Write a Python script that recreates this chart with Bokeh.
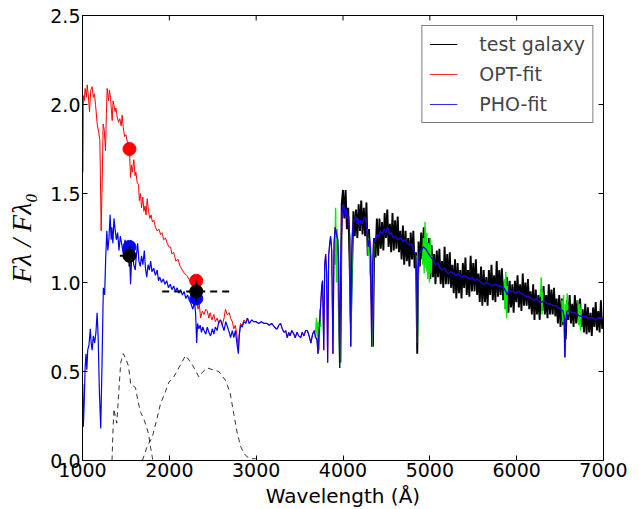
import numpy as np
from bokeh.plotting import figure
from bokeh.models import Range1d, FixedTicker, Legend, LegendItem
from bokeh.embed import file_html
from bokeh.resources import INLINE

# ---------------- data ----------------
XTICKS = [1000, 2000, 3000, 4000, 5000, 6000, 7000]
YTICKS = [0.0, 0.5, 1.0, 1.5, 2.0, 2.5]
YTICK_LABELS = ["0.0", "0.5", "1.0", "1.5", "2.0", "2.5"]

# observed galaxy spectrum (uniform sampling 3955-7000 A, step 15 A)
BLACK_FLUX = [
    0.85, 0.55, 1.44,
    1.52, 1.36, 1.52, 1.30, 1.42, 1.14, 0.77, 1.09, 1.40, 1.26,
    1.41, 1.25, 1.44, 1.29, 1.46, 1.27, 1.42, 1.26, 1.45, 1.15,
    1.30, 1.09, 0.92, 0.64, 1.25, 1.14, 1.36, 1.15, 1.36, 1.19,
    1.34, 1.18, 1.39, 1.25, 1.41, 1.20, 1.33, 1.17, 1.39, 1.18,
    1.35, 1.19, 1.37, 1.17, 1.29, 1.13, 1.32, 1.10, 1.29, 1.12,
    1.25, 1.09, 1.28, 1.13, 1.29, 1.08, 1.17, 0.60, 1.23, 1.09,
    1.28, 1.13, 1.31, 1.11, 1.23, 1.06, 1.25, 1.02, 1.21, 1.03,
    1.16, 0.99, 1.18, 1.03, 1.19, 0.99, 1.12, 0.97, 1.20, 0.99,
    1.16, 0.99, 1.17, 0.97, 1.10, 0.94, 1.13, 0.91, 1.11, 0.94,
    1.07, 0.91, 1.11, 0.97, 1.14, 0.93, 1.07, 0.92, 1.15, 0.95,
    1.11, 0.95, 1.13, 0.93, 1.05, 0.89, 1.09, 0.87, 1.07, 0.89,
    1.03, 0.87, 1.07, 0.93, 1.10, 0.90, 1.04, 0.89, 1.12, 0.92,
    1.07, 0.93, 1.08, 0.90, 1.01, 0.85, 1.03, 0.83, 1.01, 0.86,
    0.99, 0.83, 1.01, 0.89, 1.04, 0.86, 0.99, 0.84, 1.05, 0.87,
    1.00, 0.87, 1.02, 0.85, 0.95, 0.82, 0.99, 0.79, 0.96, 0.82,
    0.93, 0.79, 0.96, 0.84, 0.98, 0.82, 0.93, 0.80, 0.99, 0.82,
    0.96, 0.82, 0.97, 0.81, 0.91, 0.77, 0.93, 0.75, 0.91, 0.76,
    0.81, 0.68, 0.90, 0.79, 0.93, 0.77, 0.88, 0.75, 0.93, 0.77,
    0.90, 0.77, 0.91, 0.75, 0.85, 0.72, 0.88, 0.71, 0.86, 0.72,
    0.83, 0.70, 0.86, 0.75, 0.89, 0.73, 0.84, 0.72, 0.90, 0.74,
    0.80,
]
BLACK_START, BLACK_END = 3955, 7000

# masked (green) pieces of the observed spectrum: (wavelength, flux)
GREEN_PIECES = [
    [(3685, 0.72), (3695, 0.80), (3705, 0.66), (3715, 0.78), (3725, 0.62), (3735, 0.85), (3745, 0.75)],
    [(3905, 1.10), (3915, 1.42), (3925, 1.00), (3935, 1.30), (3945, 0.92), (3955, 0.70), (3962, 0.52), (3970, 0.90), (3980, 1.25)],
    [(4075, 1.28), (4085, 0.90), (4092, 0.64), (4100, 1.00), (4110, 1.30)],
    [(4280, 1.30), (4290, 1.15), (4300, 1.25), (4310, 1.05), (4320, 1.20), (4330, 0.90), (4338, 0.64), (4345, 1.00), (4355, 1.22)],
    [(4845, 1.15), (4852, 0.90), (4858, 0.66), (4865, 0.95), (4872, 1.12)],
    [(4915, 1.10), (4925, 1.25), (4935, 1.05), (4945, 1.34), (4955, 1.08), (4965, 1.28), (4975, 1.02), (4985, 1.22), (4995, 1.00), (5005, 1.25), (5015, 1.05), (5025, 1.15)],
    [(5855, 1.02), (5865, 0.85), (5875, 1.06), (5885, 0.80), (5895, 0.98)],
    [(6275, 0.92), (6283, 1.03), (6292, 0.82), (6300, 0.95)],
    [(6520, 0.90), (6530, 0.78), (6540, 0.93), (6548, 0.70), (6555, 0.58), (6562, 0.88), (6572, 0.80), (6582, 0.94), (6592, 0.82)],
    [(6705, 0.90), (6715, 0.76), (6725, 0.88), (6735, 0.73), (6745, 0.86)],
]

# OPT-fit, UV part (wavelength, flux)
OPT_UV = [
    (1000, 1.62), (1005, 1.62), (1010, 2.05), (1020, 2.02), (1030, 2.09), (1045, 2.04), (1054, 2.11), (1065, 2.06),
    (1081, 1.96), (1095, 2.08), (1111, 2.10), (1125, 2.04), (1138, 2.06), (1150, 2.00), (1169, 1.89),
    (1188, 1.84), (1200, 1.80), (1215, 1.29), (1228, 1.60), (1238, 1.89), (1250, 1.86), (1265, 1.74),
    (1275, 1.95), (1284, 2.09), (1300, 2.02), (1310, 2.08), (1323, 2.04), (1335, 1.95), (1342, 1.91),
    (1352, 2.02), (1361, 2.00), (1375, 1.96), (1385, 1.98), (1399, 1.93), (1415, 1.90), (1430, 1.92),
    (1445, 1.88), (1457, 1.94), (1470, 1.87), (1484, 1.82), (1500, 1.83), (1520, 1.78), (1541, 1.75),
    (1553, 1.59), (1565, 1.66), (1575, 1.62), (1591, 1.69), (1605, 1.60), (1615, 1.62), (1630, 1.56),
    (1645, 1.55), (1655, 1.46), (1668, 1.50), (1680, 1.42), (1695, 1.48), (1707, 1.40), (1720, 1.43),
    (1732, 1.38), (1745, 1.47), (1760, 1.40), (1775, 1.36), (1790, 1.38), (1805, 1.34), (1822, 1.35),
    (1840, 1.31), (1860, 1.29), (1880, 1.30), (1899, 1.27), (1915, 1.28), (1935, 1.24), (1956, 1.25),
    (1975, 1.22), (1995, 1.20), (2014, 1.20), (2030, 1.16), (2050, 1.17), (2075, 1.12), (2100, 1.13),
    (2125, 1.09), (2150, 1.07), (2175, 1.05), (2200, 1.04), (2225, 1.02), (2250, 1.00), (2275, 0.97),
    (2300, 0.98), (2315, 0.90), (2330, 0.85), (2345, 0.88), (2360, 0.80), (2380, 0.84), (2400, 0.82),
    (2420, 0.85), (2437, 0.84), (2455, 0.80), (2470, 0.83), (2490, 0.79), (2513, 0.82), (2530, 0.78),
    (2550, 0.80), (2570, 0.77), (2590, 0.79), (2610, 0.76), (2630, 0.80), (2647, 0.85), (2665, 0.82),
    (2690, 0.83), (2705, 0.80), (2725, 0.78), (2743, 0.74), (2760, 0.76), (2780, 0.70), (2795, 0.62),
    (2805, 0.71), (2820, 0.77), (2840, 0.76), (2860, 0.79), (2880, 0.78),
]

# PHO-fit, UV part (wavelength, flux)
PHO_UV = [
    (1000, 0.43), (1003, 0.43), (1010, 0.19), (1020, 0.33), (1030, 0.52), (1040, 0.60), (1050, 0.51),
    (1060, 0.62), (1075, 0.65), (1090, 0.74), (1100, 0.66), (1111, 0.62), (1125, 0.70), (1140, 0.66),
    (1155, 0.72), (1168, 0.83), (1180, 0.70), (1195, 0.38), (1210, 0.18), (1225, 0.55), (1240, 0.97),
    (1255, 0.93), (1268, 1.15), (1280, 1.29), (1292, 1.18), (1305, 1.25), (1318, 1.38), (1330, 1.24),
    (1338, 1.31), (1350, 1.22), (1362, 1.36), (1375, 1.30), (1390, 1.24), (1405, 1.28), (1420, 1.18),
    (1435, 1.26), (1450, 1.22), (1470, 1.16), (1490, 1.24), (1510, 1.19), (1530, 1.22), (1541, 1.20),
    (1553, 0.99), (1565, 1.12), (1575, 1.18), (1590, 1.10), (1607, 1.07), (1620, 1.15), (1635, 1.22),
    (1650, 1.12), (1665, 1.09), (1680, 1.15), (1695, 1.10), (1712, 1.18), (1725, 1.08), (1740, 1.03),
    (1755, 1.10), (1770, 1.07), (1785, 1.12), (1800, 1.06), (1820, 1.08), (1840, 1.04), (1860, 1.07),
    (1875, 1.01), (1890, 1.03), (1910, 1.00), (1930, 1.02), (1950, 0.99), (1970, 1.01), (1990, 0.97),
    (2010, 0.99), (2030, 0.96), (2050, 0.98), (2070, 0.95), (2090, 0.97), (2110, 0.94), (2130, 0.96),
    (2150, 0.93), (2170, 0.95), (2190, 0.91), (2210, 0.93), (2230, 0.90), (2250, 0.88), (2270, 0.85),
    (2290, 0.89), (2302, 0.83), (2315, 0.66), (2325, 0.77), (2340, 0.74), (2355, 0.76), (2370, 0.72),
    (2385, 0.75), (2400, 0.73), (2420, 0.71), (2437, 0.75), (2455, 0.72), (2475, 0.70), (2495, 0.74),
    (2513, 0.71), (2530, 0.75), (2550, 0.73), (2570, 0.78), (2590, 0.79), (2610, 0.76), (2630, 0.73),
    (2650, 0.78), (2670, 0.75), (2690, 0.72), (2705, 0.69), (2725, 0.73), (2743, 0.69), (2760, 0.73),
    (2780, 0.65), (2795, 0.60), (2805, 0.70), (2820, 0.76), (2840, 0.75), (2860, 0.78), (2880, 0.77),
]

# part where both fits coincide (wavelength, flux)
FIT_COMMON = [
    (2900, 0.80), (2920, 0.77), (2935, 0.78), (2950, 0.79), (2970, 0.78), (3000, 0.78), (3030, 0.77),
    (3060, 0.78), (3090, 0.77), (3128, 0.77), (3150, 0.76), (3180, 0.77), (3210, 0.75), (3230, 0.74),
    (3243, 0.74), (3260, 0.76), (3281, 0.77), (3300, 0.74), (3320, 0.72), (3340, 0.73), (3358, 0.69),
    (3375, 0.72), (3390, 0.70), (3410, 0.73), (3434, 0.71), (3450, 0.69), (3470, 0.72), (3490, 0.70),
    (3512, 0.69), (3530, 0.72), (3550, 0.70), (3570, 0.73), (3589, 0.73), (3610, 0.70), (3630, 0.66),
    (3650, 0.71), (3670, 0.73), (3684, 0.69), (3700, 0.68), (3712, 0.60), (3725, 0.72), (3740, 0.85),
    (3755, 0.98), (3765, 1.01), (3778, 0.62), (3790, 1.10), (3800, 1.16), (3812, 1.05), (3823, 0.55),
    (3835, 1.15), (3847, 1.22), (3857, 1.26), (3870, 1.18), (3884, 0.60), (3897, 1.22), (3910, 1.31),
    (3925, 1.27), (3940, 1.24), (3950, 1.10), (3961, 0.52), (3975, 1.15), (3991, 1.40), (4007, 1.44),
    (4020, 1.38), (4035, 1.41), (4050, 1.36), (4065, 1.37), (4078, 1.25), (4088, 0.64), (4098, 1.10),
    (4110, 1.30), (4125, 1.35), (4145, 1.37), (4160, 1.33), (4175, 1.36), (4190, 1.32), (4203, 1.35),
    (4220, 1.33), (4240, 1.36), (4260, 1.37), (4275, 1.30), (4290, 1.20), (4305, 1.25), (4318, 1.15),
    (4330, 0.64), (4342, 1.10), (4353, 1.25), (4370, 1.23), (4390, 1.27), (4410, 1.26), (4433, 1.29),
    (4455, 1.27), (4475, 1.30), (4495, 1.28), (4514, 1.31), (4535, 1.27), (4555, 1.28), (4583, 1.25),
    (4605, 1.26), (4630, 1.24), (4664, 1.25), (4690, 1.23), (4715, 1.24), (4744, 1.22), (4770, 1.21),
    (4790, 1.22), (4815, 1.18), (4836, 1.16), (4848, 1.05), (4856, 0.66), (4864, 1.05), (4878, 1.16),
    (4900, 1.18), (4925, 1.20), (4952, 1.19), (4975, 1.17), (5000, 1.15), (5020, 1.14), (5044, 1.12),
    (5070, 1.10), (5095, 1.11), (5120, 1.08), (5145, 1.07), (5170, 1.08), (5190, 1.06), (5215, 1.05),
    (5240, 1.06), (5274, 1.05), (5300, 1.04), (5330, 1.05), (5360, 1.03), (5390, 1.04), (5428, 1.03),
    (5460, 1.02), (5490, 1.03), (5520, 1.01), (5550, 1.02), (5590, 1.00), (5620, 0.99), (5650, 1.00),
    (5690, 0.99), (5720, 0.98), (5760, 0.99), (5790, 0.98), (5813, 0.98), (5850, 0.97), (5875, 0.95),
    (5893, 0.93), (5910, 0.96), (5931, 0.95), (5960, 0.95), (5990, 0.94), (6020, 0.95), (6046, 0.94),
    (6080, 0.93), (6110, 0.92), (6140, 0.92), (6170, 0.91), (6200, 0.90), (6230, 0.91), (6260, 0.89),
    (6290, 0.89), (6320, 0.90), (6350, 0.88), (6392, 0.88), (6420, 0.87), (6450, 0.87), (6480, 0.86),
    (6510, 0.85), (6535, 0.84), (6548, 0.80), (6555, 0.58), (6565, 0.78), (6580, 0.84), (6610, 0.84),
    (6640, 0.83), (6670, 0.83), (6700, 0.82), (6730, 0.81), (6760, 0.81), (6790, 0.81), (6820, 0.80),
    (6850, 0.80), (6880, 0.80), (6910, 0.79), (6940, 0.80), (6970, 0.80), (7000, 0.80),
]

# GALEX filter response curves (dashed)
FUV_WAVE = [1340, 1352, 1362, 1380, 1395, 1420, 1440, 1470, 1500, 1530, 1555, 1580, 1610, 1640, 1670, 1700, 1730, 1760, 1785, 1810]
FUV_RESP = [0.0, 0.18, 0.29, 0.24, 0.21, 0.40, 0.55, 0.60, 0.57, 0.53, 0.43, 0.42, 0.41, 0.33, 0.27, 0.24, 0.20, 0.15, 0.07, 0.0]
NUV_WAVE = [1690, 1745, 1803, 1850, 1899, 1950, 1995, 2052, 2120, 2187, 2263, 2340, 2390, 2437, 2500, 2570, 2647, 2700, 2743, 2780, 2820, 2860, 2897, 2950, 2993, 3030]
NUV_RESP = [0.0, 0.08, 0.13, 0.22, 0.32, 0.38, 0.44, 0.47, 0.53, 0.59, 0.54, 0.47, 0.50, 0.52, 0.51, 0.50, 0.45, 0.38, 0.26, 0.16, 0.08, 0.04, 0.02, 0.01, 0.01, 0.0]

# photometry
PHOT_WAVE = [1541, 2310]
OBS_PHOT = [1.15, 0.95]
OBS_ERR = [0.06, 0.06]
BAND_LO = [1430, 1918]
BAND_HI = [1610, 2724]
OPT_PHOT = [1.75, 1.01]
PHO_PHOT = [1.20, 0.91]

# ---------------- figure ----------------
X0, X1, Y0, Y1 = 1000, 7000, 0.0, 2.5
FW, FH = 521, 445
p = figure(frame_width=FW, frame_height=FH,
           x_range=Range1d(X0, X1), y_range=Range1d(Y0, Y1),
           output_backend="svg", toolbar_location=None,
           min_border_left=82, min_border_right=36, min_border_top=15, min_border_bottom=49)
p.grid.visible = False
p.outline_line_color = "black"
p.outline_line_width = 1
p.background_fill_color = "white"
p.border_fill_color = "white"

FONT = "DejaVu Sans"
xax = p.below[0]
yax = p.left[0]
for ax, ticks in ((xax, XTICKS), (yax, YTICKS)):
    ax.ticker = FixedTicker(ticks=ticks)
    ax.major_tick_in = 5
    ax.major_tick_out = 0
    ax.minor_tick_line_color = None
    ax.axis_line_color = "black"
    ax.major_tick_line_color = "black"
    ax.major_label_text_font = FONT
    ax.major_label_text_color = "black"
    ax.major_label_text_font_size = "19px"
    ax.major_label_standoff = 2
yax.major_label_overrides = {t: s for t, s in zip(YTICKS, YTICK_LABELS)}
xax.major_label_overrides = {t: str(t) for t in XTICKS}

xax.axis_label = "Wavelength (Å)"
xax.axis_label_text_font = FONT
xax.axis_label_text_font_size = "20px"
xax.axis_label_text_font_style = "normal"
xax.axis_label_text_color = "black"
xax.axis_label_standoff = 4

yax.axis_label = "Fλ / Fλ₀"
yax.axis_label_text_font = "Liberation Serif"
yax.axis_label_text_font_size = "28px"
yax.axis_label_text_font_style = "italic"
yax.axis_label_text_color = "black"
yax.axis_label_standoff = 10

# inward ticks on the top and right frame edges
TICK_PX = 5
dy = TICK_PX * (Y1 - Y0) / FH
dx = TICK_PX * (X1 - X0) / FW
p.segment(x0=XTICKS, y0=[Y1] * len(XTICKS), x1=XTICKS, y1=[Y1 - dy] * len(XTICKS), line_color="black", line_width=1)
p.segment(x0=[X1] * len(YTICKS), y0=YTICKS, x1=[X1 - dx] * len(YTICKS), y1=YTICKS, line_color="black", line_width=1)

# observed spectrum
black_wave = np.linspace(BLACK_START, BLACK_END, len(BLACK_FLUX))
p.line(black_wave, BLACK_FLUX, line_color="black", line_width=1.9)

# masked regions in green
p.multi_line([[w for w, f in seg] for seg in GREEN_PIECES],
             [[f for w, f in seg] for seg in GREEN_PIECES],
             line_color="#00ee00", line_width=1.4)

# fits
opt_all = OPT_UV + FIT_COMMON
pho_all = PHO_UV + FIT_COMMON
p.line([w for w, f in opt_all], [f for w, f in opt_all], line_color="red", line_width=1)
p.line([w for w, f in pho_all], [f for w, f in pho_all], line_color="blue", line_width=1.2)

# filter curves
p.line(FUV_WAVE, FUV_RESP, line_color="black", line_alpha=0.8, line_width=1, line_dash="5 4")
p.line(NUV_WAVE, NUV_RESP, line_color="black", line_alpha=0.8, line_width=1, line_dash="5 4")

# model photometry
p.scatter(PHOT_WAVE, OPT_PHOT, marker="circle", size=13, fill_color="red", line_color="red")
p.scatter(PHOT_WAVE, PHO_PHOT, marker="circle", size=13, fill_color="blue", line_color="blue")

# observed photometry with error bars
p.segment(x0=BAND_LO[:1], y0=OBS_PHOT[:1], x1=BAND_HI[:1], y1=OBS_PHOT[:1], line_color="black", line_width=2)
p.segment(x0=BAND_LO[1:], y0=OBS_PHOT[1:], x1=BAND_HI[1:], y1=OBS_PHOT[1:], line_color="black", line_width=2, line_dash="7 5")
p.segment(x0=PHOT_WAVE, y0=[o - e for o, e in zip(OBS_PHOT, OBS_ERR)],
          x1=PHOT_WAVE, y1=[o + e for o, e in zip(OBS_PHOT, OBS_ERR)], line_color="black", line_width=2)
p.scatter(PHOT_WAVE, OBS_PHOT, marker="circle", size=13, fill_color="black", line_color="black")

# legend swatches: single-point lines placed outside the visible range (nothing drawn in the frame)
off = X0 - 1000
lg_black = p.line([off], [1.0], line_color="black", line_width=1.1)
lg_red = p.line([off], [1.0], line_color="#ff2a2a", line_width=1.1)
lg_blue = p.line([off], [1.0], line_color="#2a2aff", line_width=1.1)
legend = Legend(items=[LegendItem(label="test galaxy", renderers=[lg_black]),
                       LegendItem(label="OPT-fit", renderers=[lg_red]),
                       LegendItem(label="PHO-fit", renderers=[lg_blue])],
                location="top_right", margin=10, padding=7, spacing=8,
                label_standoff=22, glyph_width=28, glyph_height=20, label_height=20,
                label_text_font=FONT, label_text_font_size="19px",
                border_line_color="black", border_line_width=1, background_fill_alpha=1.0)
p.add_layout(legend)

with open("out.html", "w") as f:
    f.write(file_html(p, INLINE))
